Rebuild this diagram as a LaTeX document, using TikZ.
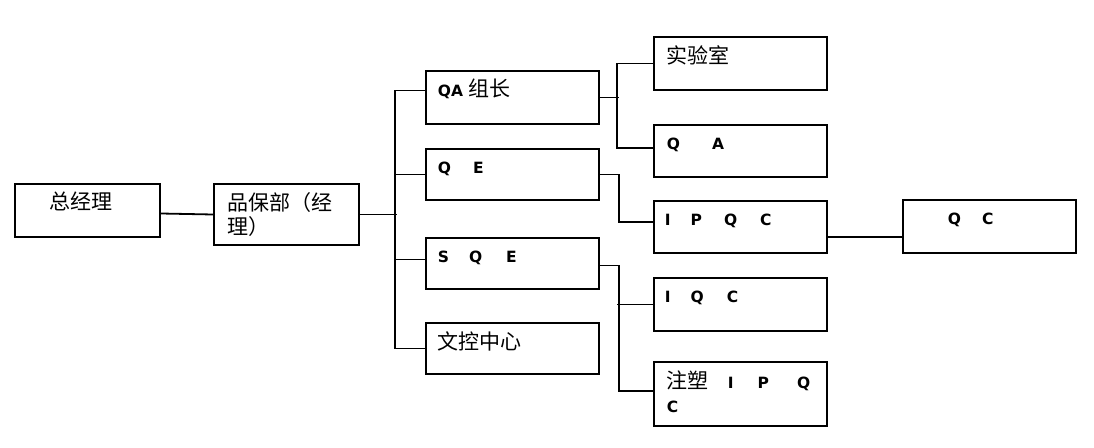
\documentclass[tikz,border=0pt]{standalone}
\usepackage{fontspec}
\setmainfont{DejaVu Sans}
\newfontfamily\cjk{Noto Sans CJK SC}
\newcommand{\zh}[1]{{\cjk\mdseries\fontsize{21}{24}\selectfont #1}}
\newcommand{\gap}[1][22]{\hspace{#1pt}}
\tikzset{
  box/.style={draw,line width=2pt,anchor=north west,inner sep=0pt,minimum width=173pt,minimum height=53pt},
  lbl/.style={anchor=base west,inner sep=0pt,align=left,font=\bfseries\fontsize{15.5}{24}\selectfont},
}
\begin{document}
\begin{tikzpicture}[x=1pt,y=-1pt,line width=1.8pt]
	\useasboundingbox (0,0) rectangle (1094,447);
	% boxes
	\node[box,minimum width=145pt] (gm) at (14,183) {};
	\node[box,minimum width=145pt,minimum height=61pt] (qa0) at (213,183) {};
	\node[box] (qaz) at (425,70) {};
	\node[box,minimum height=51pt] (qe) at (425,148) {};
	\node[box,minimum height=51pt] (sqe) at (425,237) {};
	\node[box,minimum height=51pt] (wk) at (425,322) {};
	\node[box] (lab) at (653,36) {};
	\node[box,minimum height=52pt] (qa) at (653,124) {};
	\node[box,minimum height=52pt] (ipqc) at (653,200) {};
	\node[box] (iqc) at (653,277) {};
	\node[box,minimum height=64pt] (zs) at (653,361) {};
	\node[box] (qc) at (902,199) {};
	% texts
	\node[lbl] (gm-t) at ([shift={(35,26)}]gm.north west) {\zh{总经理}};
	\node[lbl] (qa0-t) at ([shift={(14,51)}]qa0.north west) {\zh{品保部（经}\\\zh{理）}};
	\node[lbl] (qaz-t) at ([shift={(12,26)}]qaz.north west) {QA \zh{组长}};
	\node[lbl] (qe-t) at ([shift={(12,25)}]qe.north west) {Q\gap E};
	\node[lbl] (sqe-t) at ([shift={(12,25)}]sqe.north west) {S\gap[20]Q\gap[24]E};
	\node[lbl] (wk-t) at ([shift={(12,27)}]wk.north west) {\zh{文控中心}};
	\node[lbl] (lab-t) at ([shift={(13,27)}]lab.north west) {\zh{实验室}};
	\node[lbl] (qa-t) at ([shift={(13,25)}]qa.north west) {Q\gap[32]A};
	\node[lbl] (ipqc-t) at ([shift={(11,25)}]ipqc.north west) {I\gap[20]P\gap[22]Q\gap[23]C};
	\node[lbl] (iqc-t) at ([shift={(11,25)}]iqc.north west) {I\gap[20]Q\gap[23]C};
	\node[lbl] (zs-t) at ([shift={(13,51)}]zs.north west) {\zh{注塑}\gap[19]I\gap[24]P\gap[28]Q\\C};
	\node[lbl] (qc-t) at ([shift={(45,25)}]qc.north west) {Q\gap[21]C};
	% connectors
	\draw ([yshift=-3pt]gm.east) -- (qa0.west);
	\draw (qa0.east) -- ++(37,0);
	\draw ([yshift=7pt]qaz.west) -- ++(-30,0) |- (wk.west);
	\draw (qe.west) -- ++(-30,0);
	\draw ([yshift=4pt]sqe.west) -- ++(-30,0);
	\draw (qaz.east) -- ++(19,0);
	\draw (lab.west) -- ++(-36,0) |- ([yshift=3pt]qa.west);
	\draw (qe.east) -- ++(19,0) |- ([yshift=5pt]ipqc.west);
	\draw ([yshift=-2pt]sqe.east) -- ++(19,0) |- ([yshift=3pt]zs.west);
	\draw (iqc.west) -- ++(-36,0);
	\draw ([yshift=-10pt]ipqc.east) -- ([yshift=-10pt]ipqc.east -| qc.west);
\end{tikzpicture}
\end{document}
